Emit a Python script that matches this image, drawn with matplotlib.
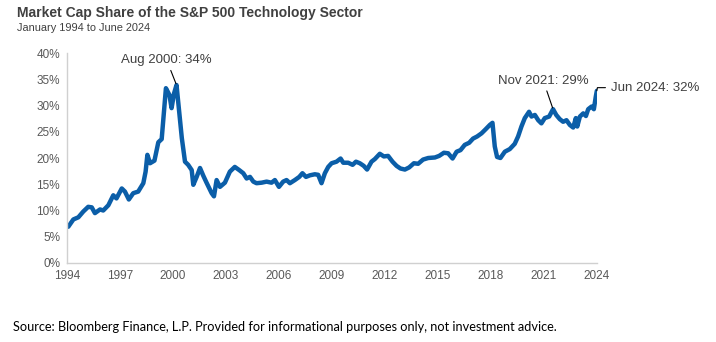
import matplotlib
matplotlib.use("Agg")
import matplotlib.pyplot as plt
from matplotlib.ticker import PercentFormatter

# positions along the date axis and market cap share in %
years = [1994.07, 1994.36, 1994.64, 1994.92, 1995.2, 1995.4, 1995.58, 1995.87, 1996.05, 1996.34,
         1996.62, 1996.8, 1997.1, 1997.28, 1997.5, 1997.75, 1998.03, 1998.32, 1998.45, 1998.55,
         1998.7, 1998.95, 1999.17, 1999.36, 1999.45, 1999.6, 1999.8, 1999.92, 2000.06, 2000.2,
         2000.36, 2000.5, 2000.58, 2000.68, 2000.86, 2001.06, 2001.15, 2001.34, 2001.53, 2001.72,
         2001.9, 2002.19, 2002.32, 2002.47, 2002.66, 2002.94, 2003.22, 2003.5, 2003.75, 2003.98,
         2004.17, 2004.36, 2004.55, 2004.73, 2005.02, 2005.3, 2005.58, 2005.77, 2006.0, 2006.24,
         2006.43, 2006.62, 2006.9, 2007.15, 2007.33, 2007.53, 2007.75, 2008.03, 2008.22, 2008.41,
         2008.6, 2008.79, 2008.98, 2009.26, 2009.49, 2009.64, 2009.92, 2010.17, 2010.36, 2010.58,
         2010.8, 2010.99, 2011.24, 2011.43, 2011.71, 2011.94, 2012.18, 2012.43, 2012.66, 2012.88,
         2013.13, 2013.37, 2013.64, 2013.88, 2014.16, 2014.45, 2014.83, 2015.07, 2015.34, 2015.58,
         2015.83, 2016.06, 2016.28, 2016.52, 2016.77, 2016.99, 2017.22, 2017.47, 2017.71, 2017.94,
         2018.09, 2018.22, 2018.35, 2018.54, 2018.79, 2019.07, 2019.35, 2019.54, 2019.73, 2019.92,
         2020.16, 2020.3, 2020.49, 2020.68, 2020.86, 2021.05, 2021.3, 2021.52, 2021.7, 2021.9,
         2022.09, 2022.28, 2022.47, 2022.66, 2022.81, 2022.89, 2023.04, 2023.23, 2023.38, 2023.51,
         2023.7, 2023.83, 2023.94, 2024.0]
share = [6.9, 8.3, 8.7, 9.8, 10.7, 10.6, 9.5, 10.2, 10.0, 11.0,
         12.9, 12.3, 14.2, 13.6, 12.1, 13.3, 13.6, 15.2, 17.4, 20.6,
         19.0, 19.5, 23.0, 23.6, 27.2, 33.3, 32.0, 29.5, 32.3, 33.9,
         28.5, 23.8, 21.8, 19.3, 18.7, 17.7, 14.9, 16.4, 18.1, 16.6,
         15.3, 13.3, 12.7, 15.8, 14.5, 15.3, 17.4, 18.3, 17.7, 17.1,
         16.1, 16.4, 15.5, 15.2, 15.3, 15.5, 15.3, 15.8, 14.5, 15.5,
         15.8, 15.2, 15.8, 16.4, 17.1, 16.4, 16.7, 16.9, 16.8, 15.2,
         17.1, 18.3, 19.0, 19.3, 19.9, 19.1, 19.1, 18.7, 19.3, 19.0,
         18.5, 17.8, 19.3, 19.8, 20.8, 20.3, 20.4, 19.3, 18.5, 18.0,
         17.8, 18.2, 19.0, 18.9, 19.7, 20.0, 20.1, 20.4, 21.0, 20.9,
         19.9, 21.2, 21.5, 22.5, 22.9, 23.7, 24.1, 24.7, 25.5, 26.3,
         26.7, 22.2, 20.2, 20.0, 21.2, 21.7, 22.7, 24.1, 26.0, 27.6,
         28.8, 27.9, 28.2, 27.2, 26.6, 27.6, 27.9, 29.3, 28.2, 27.4,
         26.9, 27.2, 26.3, 25.8, 27.6, 26.0, 27.9, 28.5, 28.0, 29.3,
         29.8, 29.3, 31.7, 32.8]

tick_years = [1994, 1997, 2000, 2003, 2006, 2009, 2012, 2015, 2018, 2021, 2024]
y_ticks = [0, 5, 10, 15, 20, 25, 30, 35, 40]

# annotated points: (label, index into the series)
notes = [("Aug 2000: 34%", 29), ("Nov 2021: 29%", 127), ("Jun 2024: 32%", len(share) - 1)]

line_col = "#0b5ea8"
text_col = "#404040"
tick_col = "#595959"
axis_col = "#d0d0d0"

fig = plt.figure(figsize=(7.16, 3.42), dpi=100)
ax = fig.add_axes([0.0936, 0.231, 0.740, 0.614])

ax.plot(years, share, color=line_col, lw=3.2, solid_joinstyle="round", solid_capstyle="round")

ax.set_xlim(1994, 2024)
ax.set_ylim(0, 40)
ax.set_xticks(tick_years)
ax.set_xticklabels([str(y) for y in tick_years])
ax.set_yticks(y_ticks)
ax.yaxis.set_major_formatter(PercentFormatter(decimals=0))
ax.tick_params(length=0, labelsize=8.5, labelcolor=tick_col, pad=5)
for lab in ax.get_xticklabels() + ax.get_yticklabels():
    lab.set_family("Liberation Sans")

for s in ["top", "right"]:
    ax.spines[s].set_visible(False)
for s in ["left", "bottom"]:
    ax.spines[s].set_color(axis_col)
    ax.spines[s].set_linewidth(1.0)

afont = dict(fontsize=9.5, color=text_col, family="Liberation Sans")
# Aug 2000
lab, i = notes[0]
ax.annotate(lab, xy=(years[i], share[i]), xytext=(years[i] - 0.55, 38.6),
            ha="center", va="center", **afont,
            arrowprops=dict(arrowstyle="-", color="black", lw=0.8, shrinkA=1, shrinkB=1))
# Nov 2021
lab, i = notes[1]
ax.annotate(lab, xy=(years[i], share[i]), xytext=(years[i] - 0.55, 34.7),
            ha="center", va="center", **afont,
            arrowprops=dict(arrowstyle="-", color="black", lw=0.8, shrinkA=1, shrinkB=1))
# Jun 2024
lab, i = notes[2]
ax.annotate(lab, xy=(years[i], share[i]), xytext=(2024.8, 33.4),
            ha="left", va="center", **afont, annotation_clip=False,
            arrowprops=dict(arrowstyle="-", color="black", lw=0.8, shrinkA=2, shrinkB=0,
                            connectionstyle="angle,angleA=0,angleB=80,rad=0"))

fig.text(0.024, 0.962, "Market Cap Share of the S&P 500 Technology Sector",
         fontsize=10, fontweight="bold", color=text_col, family="Liberation Sans", va="center")
fig.text(0.024, 0.918, "January 1994 to June 2024",
         fontsize=7.9, color=text_col, family="Liberation Sans", va="center")
fig.text(0.018, 0.045, "Source: Bloomberg Finance, L.P. Provided for informational purposes only, not investment advice.",
         fontsize=9.2, color="black", family="Lato", va="center")

fig.savefig("out.png", dpi=100, facecolor="white")
